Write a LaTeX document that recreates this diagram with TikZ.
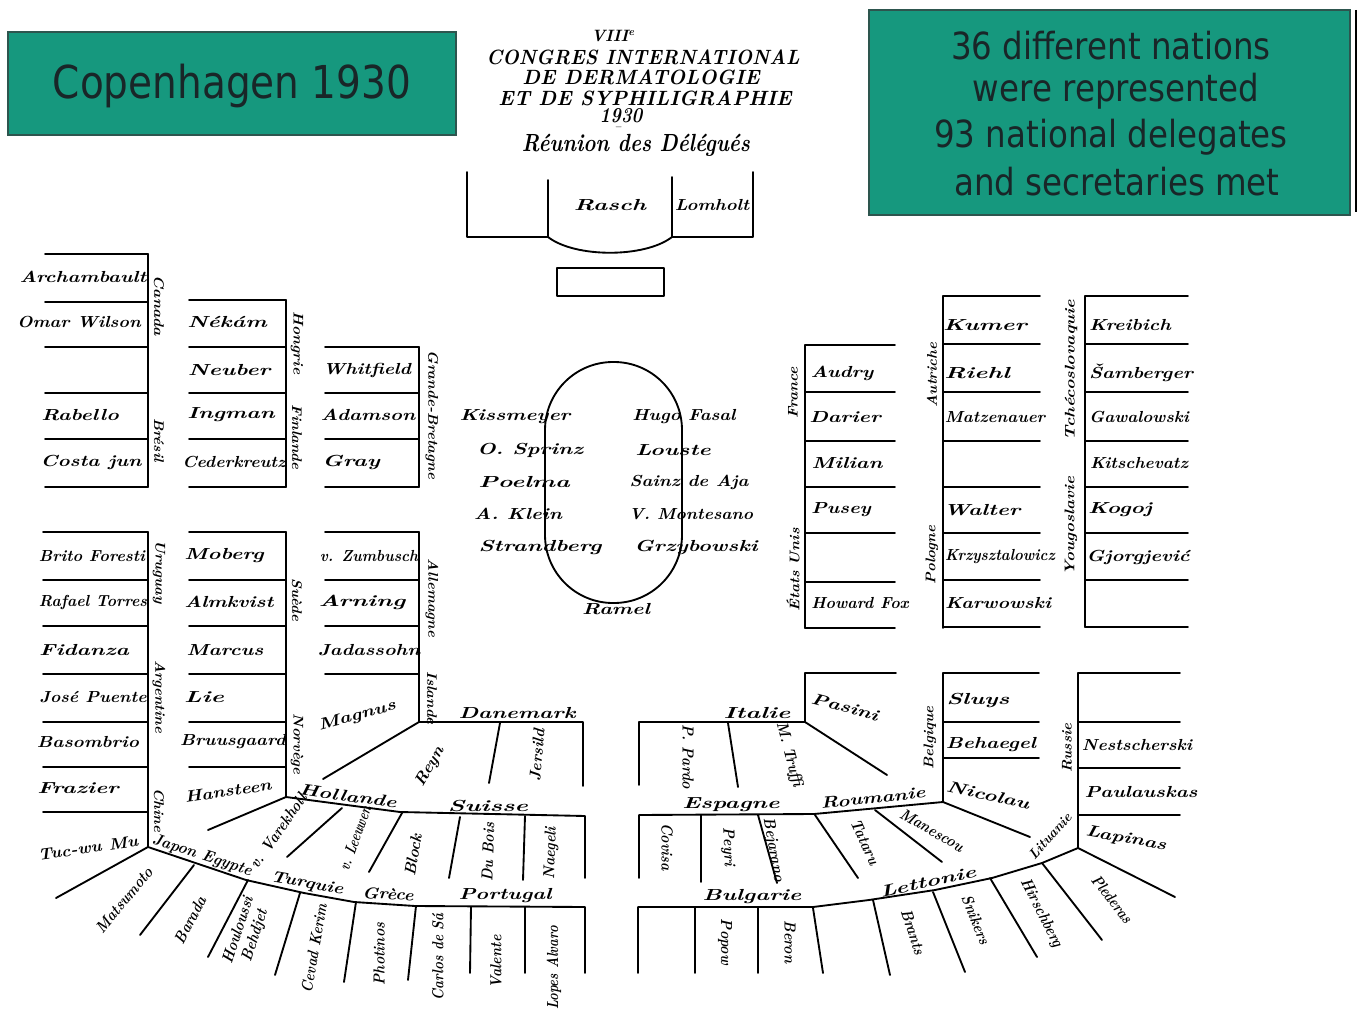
\documentclass[tikz,border=0pt]{standalone}
\usepackage{fontspec}
\usepackage{graphicx}
\newfontfamily\boxfont{DejaVu Sans}
\definecolor{teal1}{RGB}{22,152,126}
\definecolor{tealedge}{RGB}{45,85,78}
\definecolor{boxtext}{RGB}{25,38,40}
\newcommand{\hw}[2][1.15]{\scalebox{#1}[1]{#2}}
\begin{document}
\begin{tikzpicture}[x=0.75pt,y=-0.75pt,
  ln/.style={line width=1.4pt, line cap=round, line join=round},
  nm/.style={font=\fontsize{12}{13}\selectfont\bfseries\itshape, inner sep=0pt},
  cty/.style={font=\fontsize{10.5}{12}\selectfont\bfseries\itshape, inner sep=0pt},
  ctyh/.style={font=\fontsize{12}{13}\selectfont\bfseries\itshape, inner sep=0pt},
  ttl/.style={font=\fontsize{12}{14}\selectfont\bfseries\itshape, inner sep=0pt},
  tbox/.style={fill=teal1, draw=tealedge, line width=1.5pt},
  btxt/.style={text=boxtext, inner sep=0pt}]
\useasboundingbox (0,0) rectangle (1360,1013);
\fill[white] (0,0) rectangle (1360,1013);

% ---- teal boxes
\draw[tbox] (8,32) rectangle (456,135);
\node[btxt, font=\boxfont\fontsize{34}{40}\selectfont] (cph) at (232,86) {\scalebox{0.86}[1]{Copenhagen 1930}};
\draw[tbox] (869,10) rectangle (1350,215);
\draw[line width=1.6pt] (1356,10) -- (1356,212);
\node[btxt, font=\boxfont\fontsize{28}{32}\selectfont] (b1) at (1111,46) {\scalebox{0.87}[1]{36 different nations}};
\node[btxt, font=\boxfont\fontsize{28}{32}\selectfont] (b2) at (1116,91) {\scalebox{0.87}[1]{were represented}};
\node[btxt, font=\boxfont\fontsize{28}{32}\selectfont] (b3) at (1111,137) {\scalebox{0.87}[1]{93 national delegates}};
\node[btxt, font=\boxfont\fontsize{28}{32}\selectfont] (b4) at (1117,182) {\scalebox{0.87}[1]{and secretaries met}};

% ---- title
\node[ttl] (t0) at (613,36) {\resizebox{33pt}{!}{VIII\textsuperscript{e}}};
\node[ttl] (t1) at (643,57) {\resizebox{235pt}{11pt}{CONGRES INTERNATIONAL}};
\node[ttl] (t2) at (641,77) {\resizebox{178pt}{11pt}{DE DERMATOLOGIE}};
\node[ttl] (t3) at (645,98) {\resizebox{220pt}{11pt}{ET DE SYPHILIGRAPHIE}};
\node[ttl] (t4) at (621,116) {\resizebox{32pt}{10.5pt}{1930}};
\node[ttl] (t5) at (618,129) {\resizebox{5pt}{!}{--}};
\node[ttl] (t6) at (636,145) {\resizebox{171pt}{13pt}{Réunion des Délégués}};

% ---- dais
\draw[ln] (467,172) -- (467,237) -- (548,237) -- (548,180);
\draw[ln] (548,237) .. controls (575,258) and (645,258) .. (672,237);
\draw[ln] (672,177) -- (672,237) -- (753,237) -- (753,172);
\node[nm] (rasch) at (610,205) {\hw[1.5]{Rasch}};
\node[nm] (lomh) at (712,205) {\hw[1.15]{Lomholt}};
\draw[ln] (557,268) rectangle (664,296);

% ---- central table
\draw[ln, rounded corners=51pt] (545,362) rectangle (682,603);
\node[nm] (o1) at (515,417) {\hw[1.32]{Kissmeyer}};
\node[nm] (o2) at (530,450) {\hw[1.36]{O. Sprinz}};
\node[nm] (o3) at (524,482) {\hw[1.55]{Poelma}};
\node[nm] (o4) at (518,514) {\hw[1.26]{A. Klein}};
\node[nm] (o5) at (540,547) {\hw[1.45]{Strandberg}};
\node[nm] (o6) at (684,417) {\hw[1.14]{Hugo Fasal}};
\node[nm] (o7) at (673,450) {\hw[1.45]{Louste}};
\node[nm] (o8) at (689,482) {\hw[1.15]{Sainz de Aja}};
\node[nm] (o9) at (691,514) {\hw[1.08]{V. Montesano}};
\node[nm] (o10) at (696,547) {\hw[1.36]{Grzybowski}};
\node[nm] (o11) at (616,609) {\hw[1.34]{Ramel}};

% ---- upper left columns
\draw[ln] (148,254) -- (148,487);
\foreach \y in {254,302,347,393,439,487} \draw[ln] (45,\y) -- (148,\y);
\draw[ln] (286,300) -- (286,487);
\foreach \y in {300,347,393,439,487} \draw[ln] (189,\y) -- (286,\y);
\draw[ln] (419,347) -- (419,487);
\foreach \y in {347,393,439,487} \draw[ln] (325,\y) -- (419,\y);
\node[nm] (a1) at (83,277) {\hw[1.26]{Archambault}};
\node[nm] (a2) at (79,322) {\hw[1.13]{Omar Wilson}};
\node[nm] (a3) at (80,415) {\hw[1.32]{Rabello}};
\node[nm] (a4) at (91,462) {\hw[1.28]{Costa jun}};
\node[cty,rotate=-90] (ca) at (159,306) {\hw[1.12]{Canada}};
\node[cty,rotate=-90] (br) at (159,440) {\hw[1.06]{Brésil}};
\node[nm] (bb1) at (227,322) {\hw[1.42]{Nékám}};
\node[nm] (bb2) at (229,370) {\hw[1.45]{Neuber}};
\node[nm] (bb3) at (231,415) {\hw[1.42]{Ingman}};
\node[nm] (bb4) at (234,462) {\hw[1.09]{Cederkreutz}};
\node[cty,rotate=-90] (hu) at (297,343) {\hw[1.1]{Hongrie}};
\node[cty,rotate=-90] (fi) at (297,437) {\hw[1.06]{Finlande}};
\node[nm] (c1) at (367,370) {\hw[1.2]{Whitfield}};
\node[nm] (c2) at (368,415) {\hw[1.27]{Adamson}};
\node[nm] (c3) at (351,462) {\hw[1.44]{Gray}};
\node[cty,rotate=-90] (gb) at (432,415) {\hw[1.07]{Grande-Bretagne}};

% ---- lower left columns
\draw[ln] (148,532) -- (148,847);
\foreach \y in {532,580,626,674,722,767,812} \draw[ln] (43,\y) -- (148,\y);
\draw[ln] (286,532) -- (286,797);
\foreach \y in {532,580,626,674,722,767} \draw[ln] (189,\y) -- (286,\y);
\draw[ln] (419,532) -- (419,722);
\foreach \y in {532,580,626,674} \draw[ln] (325,\y) -- (419,\y);
\node[nm] (d1) at (92,556) {\hw[1.02]{Brito Foresti}};
\node[nm] (d2) at (93,602) {\hw[0.98]{Rafael Torres}};
\node[nm] (d3) at (84,650) {\hw[1.4]{Fidanza}};
\node[nm] (d4) at (93,697) {\hw[1.09]{José Puente}};
\node[nm] (d5) at (88,742) {\hw[1.18]{Basombrio}};
\node[nm] (d6) at (78,788) {\hw[1.43]{Frazier}};
\node[nm,rotate=8] (d7) at (88,848) {\hw[1.09]{Tuc-wu Mu}};
\node[cty,rotate=-90] (ur) at (159,572) {\hw[1.06]{Uruguay}};
\node[cty,rotate=-90] (ar) at (159,697) {\hw[1.06]{Argentine}};
\node[cty,rotate=-90] (cn) at (159,810) {\hw[1.06]{Chine}};
\node[nm] (e1) at (224,556) {\hw[1.36]{Moberg}};
\node[nm] (e2) at (229,602) {\hw[1.28]{Almkvist}};
\node[nm] (e3) at (225,650) {\hw[1.28]{Marcus}};
\node[nm] (e4) at (204,697) {\hw[1.57]{Lie}};
\node[nm] (e5) at (233,742) {\hw[1.14]{Bruusgaard}};
\node[nm,rotate=8] (e6) at (228,791) {\hw[1.17]{Hansteen}};
\node[cty,rotate=-90] (se) at (297,600) {\hw[1.06]{Suède}};
\node[cty,rotate=-90] (no) at (297,744) {\hw[1.06]{Norvège}};
\node[nm] (f1) at (369,556) {\hw[0.95]{v. Zumbusch}};
\node[nm] (f2) at (362,602) {\hw[1.55]{Arning}};
\node[nm] (f3) at (369,650) {\hw[1.23]{Jadassohn}};
\node[nm,rotate=15] (f4) at (357,716) {\hw[1.26]{Magnus}};
\node[cty,rotate=-90] (de) at (432,598) {\hw[1.06]{Allemagne}};
\node[cty,rotate=-90] (is) at (432,698) {\hw[1.06]{Islande}};

% Danemark
\draw[ln] (323,779) -- (419,722) -- (583,722) -- (583,786);
\draw[ln] (500,723) -- (489,783);
\node[ctyh] (dk) at (517,713) {\hw[1.4]{Danemark}};
\node[nm,rotate=60] (g1) at (430,767) {\hw[1.06]{Reyn}};
\node[nm,rotate=85] (g2) at (537,755) {\hw[0.97]{Jersild}};

% Hollande / Suisse
\draw[ln] (208,830) -- (286,797) -- (400,812) -- (585,816) -- (585,878);
\draw[ln] (342,808) -- (287,857);
\draw[ln] (402,813) -- (369,872);
\draw[ln] (460,817) -- (449,878);
\draw[ln] (525,816) -- (523,880);
\node[ctyh,rotate=-8] (nl) at (348,796) {\hw[1.35]{Hollande}};
\node[ctyh] (ch) at (488,806) {\hw[1.6]{Suisse}};
\node[nm,rotate=55] (h1) at (278,831) {\hw[0.88]{v. Varekholl}};
\node[nm,rotate=70] (h2) at (355,838) {\hw[0.74]{v. Leeuwen}};
\node[nm,rotate=80] (h3) at (413,855) {\hw[0.97]{Block}};
\node[nm,rotate=88] (h4) at (488,852) {\hw[0.88]{Du Bois}};
\node[nm,rotate=88] (h5) at (551,853) {\hw[0.88]{Naegeli}};

% Japon / Egypte / Turquie / Grece / Portugal
\draw[ln] (56,898) -- (148,847) -- (246,880) -- (304,893) -- (354,902) -- (415,906) -- (585,907) -- (585,973);
\draw[ln] (194,865) -- (140,935);
\draw[ln] (248,880) -- (208,957);
\draw[ln] (300,893) -- (275,975);
\draw[ln] (356,902) -- (344,982);
\draw[ln] (416,906) -- (408,980);
\draw[ln] (471,907) -- (470,973);
\draw[ln] (525,907) -- (525,973);
\node[ctyh,rotate=-18] (jp) at (202,856) {\hw[0.96]{Japon Egypte}};
\node[ctyh,rotate=-10] (tr) at (307,884) {\hw[1.2]{Turquie}};
\node[ctyh,rotate=-3] (gr) at (388,894) {\hw[1.14]{Grèce}};
\node[ctyh] (pt) at (505,896) {\hw[1.35]{Portugal}};
\node[nm,rotate=50] (j1) at (124,900) {\hw[0.88]{Matsumoto}};
\node[nm,rotate=62] (j2) at (190,920) {\hw[0.88]{Barada}};
\node[nm,rotate=72,align=center] (j3) at (247,933) {\hw[0.88]{Houloussi}\\\hw[0.88]{Behdjet}};
\node[nm,rotate=80] (j4) at (314,948) {\hw[0.84]{Cevad Kerim}};
\node[nm,rotate=90] (j5) at (379,954) {\hw[0.88]{Photinos}};
\node[nm,rotate=90] (j6) at (438,957) {\hw[0.84]{Carlos de Sá}};
\node[nm,rotate=90] (j7) at (496,962) {\hw[0.88]{Valente}};
\node[nm,rotate=90] (j8) at (554,968) {\hw[0.81]{Lopes Alvaro}};

% ---- upper right columns
\draw[ln] (805,345) -- (805,628);
\foreach \y in {345,392,441,487,533,582,628} \draw[ln] (805,\y) -- (895,\y);
\draw[ln] (943,296) -- (943,628);
\foreach \y in {296,344,392,441,487,533,580,627} \draw[ln] (943,\y) -- (1040,\y);
\draw[ln] (1085,296) -- (1085,627);
\foreach \y in {296,344,392,441,487,533,580,627} \draw[ln] (1085,\y) -- (1188,\y);
\node[cty,rotate=90] (fr) at (793,393) {\hw[1.1]{France}};
\node[cty,rotate=90] (us) at (793,570) {\hw[1.1]{États Unis}};
\node[nm] (k1) at (842,373) {\hw[1.27]{Audry}};
\node[nm] (k2) at (845,417) {\hw[1.33]{Darier}};
\node[nm] (k3) at (847,463) {\hw[1.33]{Milian}};
\node[nm] (k4) at (841,510) {\hw[1.25]{Pusey}};
\node[nm] (k5) at (860,603) {\hw[1.0]{Howard Fox}};
\node[cty,rotate=90] (at) at (932,375) {\hw[1.06]{Autriche}};
\node[cty,rotate=90] (pl) at (932,555) {\hw[1.06]{Pologne}};
\node[nm] (m1) at (985,325) {\hw[1.52]{Kumer}};
\node[nm] (m2) at (977,373) {\hw[1.57]{Riehl}};
\node[nm] (m3) at (995,417) {\hw[1.05]{Matzenauer}};
\node[nm] (m4) at (982,510) {\hw[1.42]{Walter}};
\node[nm] (m5) at (1000,557) {\hw[0.93]{Krzysztalowicz}};
\node[nm] (m6) at (998,603) {\hw[1.22]{Karwowski}};
\node[cty,rotate=90] (cs) at (1071,370) {\hw[1.27]{Tchécoslovaquie}};
\node[cty,rotate=90] (yu) at (1071,526) {\hw[1.2]{Yougoslavie}};
\node[nm] (p1) at (1130,325) {\hw[1.22]{Kreibich}};
\node[nm] (p2) at (1141,373) {\hw[1.25]{Šamberger}};
\node[nm] (p3) at (1139,417) {\hw[1.06]{Gawalowski}};
\node[nm] (p4) at (1139,463) {\hw[1.07]{Kitschevatz}};
\node[nm] (p5) at (1120,510) {\hw[1.4]{Kogoj}};
\node[nm] (p6) at (1138,557) {\hw[1.26]{Gjorgjević}};

% ---- lower right
% Italie
\draw[ln] (896,673) -- (805,673) -- (805,722) -- (639,722) -- (639,785);
\draw[ln] (805,722) -- (887,775);
\draw[ln] (728,723) -- (738,787);
\node[ctyh] (it) at (757,713) {\hw[1.58]{Italie}};
\node[nm,rotate=-15] (q1) at (845,707) {\hw[1.33]{Pasini}};
\node[nm,rotate=-90] (q2) at (688,757) {\hw[0.88]{P. Pardo}};
\node[nm,rotate=-75] (q3) at (789,755) {\hw[0.88]{M. Truffi}};
% Belgique
\draw[ln] (943,673) -- (943,802);
\foreach \y in {673,722,758} \draw[ln] (943,\y) -- (1039,\y);
\node[cty,rotate=90] (be) at (930,738) {\hw[1.06]{Belgique}};
\node[nm] (r1) at (978,700) {\hw[1.5]{Sluys}};
\node[nm] (r2) at (991,745) {\hw[1.29]{Behaegel}};
\node[nm,rotate=-12] (r3) at (988,795) {\hw[1.38]{Nicolau}};
% Russie
\draw[ln] (1078,673) -- (1078,848);
\foreach \y in {673,722,768,815} \draw[ln] (1078,\y) -- (1180,\y);
\node[cty,rotate=90] (ru) at (1067,748) {\hw[1.06]{Russie}};
\node[nm] (s1) at (1137,745) {\hw[1.09]{Nestscherski}};
\node[nm] (s2) at (1141,792) {\hw[1.26]{Paulauskas}};
\node[nm,rotate=-10] (s3) at (1126,839) {\hw[1.3]{Lapinas}};
% Espagne / Roumanie
\draw[ln] (639,878) -- (639,815) -- (814,814) -- (943,802) -- (1030,837);
\draw[ln] (701,815) -- (701,882);
\draw[ln] (758,815) -- (777,883);
\draw[ln] (815,815) -- (858,878);
\draw[ln] (875,810) -- (942,862);
\node[ctyh] (es) at (731,805) {\hw[1.49]{Espagne}};
\node[ctyh,rotate=6] (ro) at (873,798) {\hw[1.29]{Roumanie}};
\node[cty,rotate=48] (lt) at (1050,836) {\hw[0.97]{Lituanie}};
\node[nm,rotate=-90] (u1) at (667,847) {\hw[0.88]{Covisa}};
\node[nm,rotate=-88] (u2) at (728,847) {\hw[0.88]{Peyri}};
\node[nm,rotate=-80] (u3) at (773,850) {\hw[0.88]{Bejarano}};
\node[nm,rotate=-65] (u4) at (865,842) {\hw[0.88]{Tataru}};
\node[nm,rotate=-30] (u5) at (932,830) {\hw[0.88]{Manescou}};
% Bulgarie / Lettonie
\draw[ln] (638,973) -- (638,907) -- (813,907) -- (869,900) -- (935,890) -- (992,878) -- (1042,863) -- (1078,848) -- (1175,897);
\draw[ln] (695,908) -- (695,973);
\draw[ln] (758,908) -- (758,973);
\draw[ln] (813,908) -- (823,973);
\draw[ln] (873,900) -- (890,975);
\draw[ln] (933,892) -- (965,972);
\draw[ln] (990,878) -- (1037,957);
\draw[ln] (1042,863) -- (1102,940);
\node[ctyh] (bg) at (752,897) {\hw[1.45]{Bulgarie}};
\node[ctyh,rotate=12] (lv) at (928,882) {\hw[1.5]{Lettonie}};
\node[nm,rotate=-90] (v1) at (725,942) {\hw[0.88]{Popow}};
\node[nm,rotate=-90] (v2) at (790,942) {\hw[0.88]{Beron}};
\node[nm,rotate=-72] (v3) at (913,932) {\hw[0.88]{Brants}};
\node[nm,rotate=-68] (v4) at (976,920) {\hw[0.88]{Snikers}};
\node[nm,rotate=-63] (v5) at (1041,913) {\hw[0.88]{Hirschberg}};
\node[nm,rotate=-52] (v6) at (1112,899) {\hw[0.84]{Plederas}};
\end{tikzpicture}
\end{document}
